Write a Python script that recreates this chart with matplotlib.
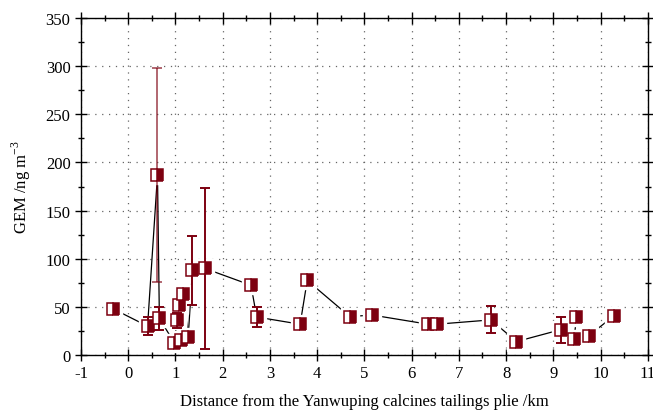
import matplotlib
matplotlib.use("Agg")
import matplotlib.pyplot as plt
from matplotlib.ticker import MultipleLocator
import numpy as np

plt.rcParams['font.family'] = ['Liberation Serif', 'DejaVu Serif']
plt.rcParams['mathtext.fontset'] = 'custom'
plt.rcParams['mathtext.rm'] = 'Liberation Serif'
plt.rcParams['axes.unicode_minus'] = False

distance = [-0.32, 0.41, 0.62, 0.66, 0.98, 1.03, 1.08, 1.11, 1.17, 1.27, 1.36, 1.62,
            2.60, 2.72, 3.64, 3.79, 4.69, 5.17, 6.35, 6.53, 7.68, 8.22, 9.17, 9.44,
            9.49, 9.75, 10.29]
gem = [48, 30, 187, 38, 12.5, 36, 52, 16, 63, 19, 88, 90,
       72.5, 39.5, 32, 77.5, 40, 41.5, 32, 32, 36.5, 14, 26.5, 17,
       39, 20, 41]
gem_err = [5, 9, 111, 11.5, 2, 8, 3, 2, 3, 2, 36, 84,
           2, 10, 2, 2, 4, 2, 2, 2, 14, 1, 13.5, 1,
           2, 1, 4]

red = '#7d0010'

fig = plt.figure(figsize=(6.53, 4.14), dpi=100)
ax = fig.add_axes([0.124, 0.140, 0.868, 0.814])

ax.set_xlim(-1, 11)
ax.set_ylim(0, 350)

ax.grid(True, which='major', linestyle=(0, (1, 4.5)), color='#666666', linewidth=0.9)
ax.set_axisbelow(True)

ax.plot(distance, gem, color='black', linewidth=0.9, zorder=2)

x = np.array(distance); y = np.array(gem); e = np.array(gem_err)
# halo behind markers
ax.plot(x, y, linestyle='none', marker='s', markersize=12.5, markerfacecolor='white',
        markeredgecolor='white', zorder=3)

for i in range(len(x)):
    alpha = 0.6 if i == 2 else 1.0
    ax.errorbar(x[i], y[i], yerr=e[i], fmt='none', ecolor=red, elinewidth=1.4,
                capsize=3.5, capthick=1.4, alpha=alpha, zorder=4)

ax.plot(x, y, linestyle='none', marker='s', markersize=8.2, fillstyle='right',
        markerfacecolor=red, markerfacecoloralt='white', markeredgecolor=red,
        markeredgewidth=1.1, zorder=5)

ax.xaxis.set_major_locator(MultipleLocator(1))
ax.xaxis.set_minor_locator(MultipleLocator(0.5))
ax.yaxis.set_major_locator(MultipleLocator(50))
ax.yaxis.set_minor_locator(MultipleLocator(25))
ax.tick_params(which='both', direction='inout', top=True, right=True, labelsize=12,
               colors='black')
ax.tick_params(which='major', length=8, width=1)
ax.tick_params(which='minor', length=4.5, width=1)
for s in ax.spines.values():
    s.set_linewidth(1.0)

ax.set_xlabel('Distance from the Yanwuping calcines tailings plie /km', fontsize=12, labelpad=8)
ax.set_ylabel('GEM /ng m$^{-3}$', fontsize=12, labelpad=9)

fig.savefig('out.png', dpi=100)
